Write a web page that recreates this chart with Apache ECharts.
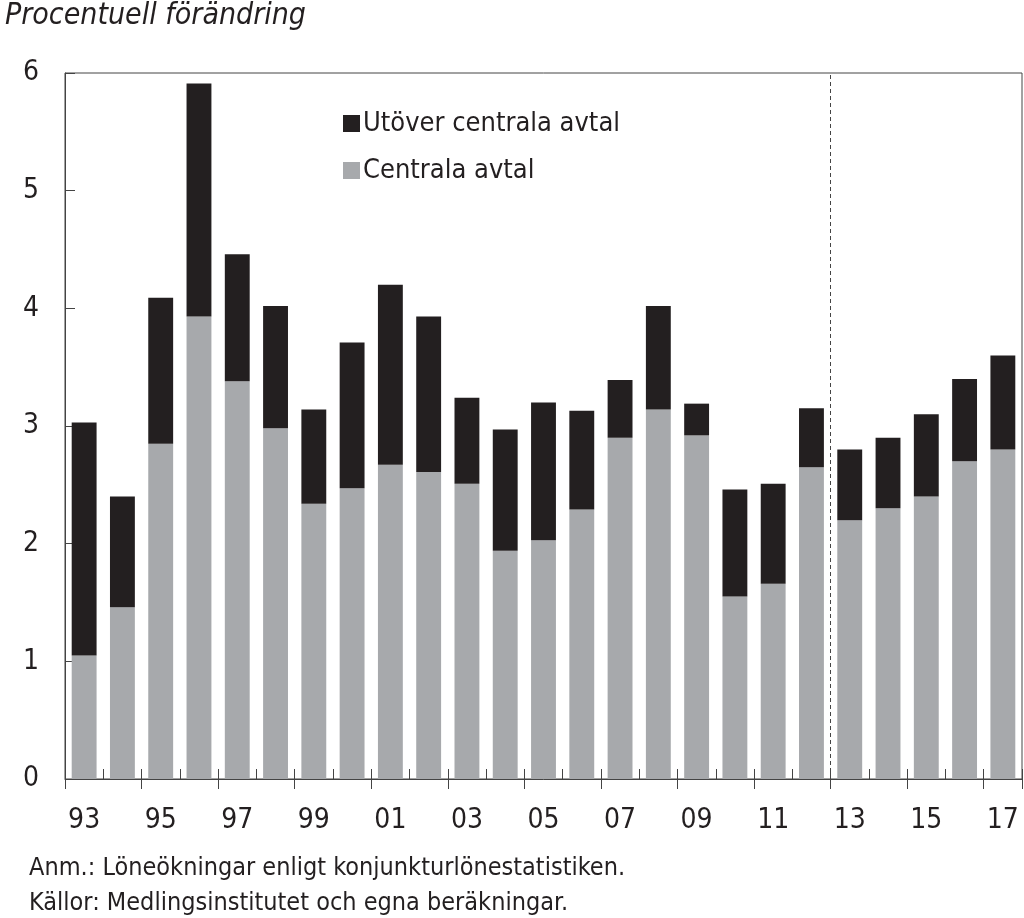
<!DOCTYPE html>
<html>
<head>
<meta charset="utf-8">
<script src="https://cdn.jsdelivr.net/npm/echarts@6/dist/echarts.min.js"></script>
<style>
html,body{margin:0;padding:0;background:#fff;}
#c{width:1024px;height:918px;}
</style>
</head>
<body>
<div id="c"></div>
<script>
const years = ['93','94','95','96','97','98','99','00','01','02','03','04','05','06','07','08','09','10','11','12','13','14','15','16','17'];
const centralaAvtal = [1.05,1.46,2.85,3.93,3.38,2.98,2.34,2.47,2.67,2.61,2.51,1.94,2.03,2.29,2.90,3.14,2.92,1.55,1.66,2.65,2.20,2.30,2.40,2.70,2.80];
const utoverCentrala = [1.98,0.94,1.24,1.98,1.08,1.04,0.80,1.24,1.53,1.32,0.73,1.03,1.17,0.84,0.49,0.88,0.27,0.91,0.85,0.50,0.60,0.60,0.70,0.70,0.80];
const yTicks = [0,1,2,3,4,5,6];
const forecastBreak = 19.5; // between 12 and 13

const FONT = "'Liberation Sans Narrow','DejaVu Sans Condensed','Roboto Condensed',sans-serif";
const chart = echarts.init(document.getElementById('c'), null, {renderer:'canvas'});
chart.setOption({
  animation:false,
  backgroundColor:'#fff',
  textStyle:{fontFamily:FONT,color:'#231f20'},
  title:[
    {text:'Procentuell förändring',left:0,top:-4,textStyle:{fontFamily:FONT,fontStyle:'italic',fontWeight:'normal',fontSize:30,color:'#231f20'}},
    {text:'Anm.: Löneökningar enligt konjunkturlönestatistiken.\nKällor: Medlingsinstitutet och egna beräkningar.',left:24,top:846,
     textStyle:{fontFamily:FONT,fontWeight:'normal',fontSize:25,lineHeight:35,color:'#231f20'}}
  ],
  legend:{
    orient:'vertical',left:338,top:105,itemWidth:17,itemHeight:17,itemGap:20,
    data:['Utöver centrala avtal','Centrala avtal'],
    textStyle:{fontFamily:FONT,fontSize:27,color:'#231f20',padding:[0,0,0,-2]},
    icon:'rect'
  },
  grid:{left:65,right:2,top:73,bottom:139,show:true,borderColor:'#444',borderWidth:1},
  xAxis:[
    {type:'category',data:years,gridIndex:0,boundaryGap:true,
     axisLine:{lineStyle:{color:'#444',width:1}},
     axisTick:{show:true,length:10,lineStyle:{color:'#444'}},
     axisLabel:{interval:1,fontFamily:FONT,fontSize:28,color:'#231f20',margin:28}},
    {type:'category',data:years,gridIndex:0,position:'bottom',
     axisLine:{show:false},
     axisTick:{show:true,inside:true,length:10,lineStyle:{color:'#444'}},
     axisLabel:{show:false}},
    {type:'value',min:-0.5,max:years.length-0.5,show:false,gridIndex:0}
  ],
  yAxis:{type:'value',min:yTicks[0],max:yTicks[yTicks.length-1],interval:1,
    axisLine:{show:true,onZero:false,lineStyle:{color:'#444'}},
    axisTick:{show:true,inside:true,length:10,lineStyle:{color:'#444'}},
    splitLine:{show:false},
    axisLabel:{fontFamily:FONT,fontSize:28,color:'#231f20',margin:26}},
  series:[
    {name:'Centrala avtal',type:'bar',stack:'s',data:centralaAvtal,barWidth:'65%',itemStyle:{color:'#a7a9ac'}},
    {name:'Utöver centrala avtal',type:'bar',stack:'s',data:utoverCentrala,barWidth:'65%',itemStyle:{color:'#231f20'}},
    {name:'break',type:'line',xAxisIndex:2,data:[],silent:true,
     markLine:{symbol:'none',silent:true,label:{show:false},
       lineStyle:{type:[4,3],color:'#444',width:1},
       data:[{xAxis:forecastBreak}]}}
  ]
});
</script>
</body>
</html>
